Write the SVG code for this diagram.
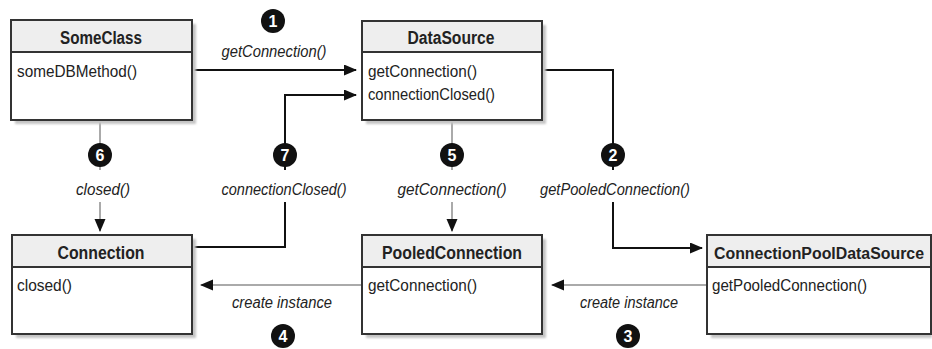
<svg xmlns="http://www.w3.org/2000/svg" width="932" height="349" viewBox="0 0 932 349">
<style>
.shadow{fill:#c4c4c4;filter:url(#blur)}
.box{fill:#ffffff;stroke:#333333;stroke-width:2}
.head{fill:#eeeeee;stroke:#333333;stroke-width:2}
.title{font-family:"Liberation Sans Narrow","Liberation Sans",Arial,sans-serif;font-size:18px;font-weight:bold;fill:#222222;text-anchor:middle}
.meth{font-family:"Liberation Sans Narrow","Liberation Sans",Arial,sans-serif;font-size:16px;fill:#222222}
.lbl{font-family:"Liberation Sans Narrow","Liberation Sans",Arial,sans-serif;font-size:16px;font-style:italic;fill:#222222;text-anchor:middle}
.blk{fill:none;stroke:#111111;stroke-width:2}
.gry{fill:none;stroke:#aaaaaa;stroke-width:2}
.num circle{fill:#111111}
.num text{font-family:"Liberation Sans",Arial,sans-serif;font-size:16px;font-weight:bold;fill:#ffffff;text-anchor:middle}
</style>
<defs>
<filter id="blur" x="-10%" y="-10%" width="120%" height="120%"><feGaussianBlur stdDeviation="1.2"/></filter>
<marker id="arr" markerUnits="userSpaceOnUse" markerWidth="14" markerHeight="12" refX="12" refY="5.5" orient="auto">
<path d="M0,0 L13,5.5 L0,11 z" fill="#111111"/>
</marker>
</defs>
<rect width="932" height="349" fill="#ffffff"/>

<g id="connectors">
<path class="blk" d="M192,70 H356" marker-end="url(#arr)"/>
<path class="blk" d="M192,247 H285 V202"/>
<path class="blk" d="M285,170 V95 H356" marker-end="url(#arr)"/>
<path class="gry" d="M100,121 V170"/>
<path class="gry" d="M100,202 V231" marker-end="url(#arr)"/>
<path class="gry" d="M452,121 V170"/>
<path class="gry" d="M452,202 V231" marker-end="url(#arr)"/>
<path class="blk" d="M542,70 H613 V170"/>
<path class="blk" d="M613,202 V248 H702" marker-end="url(#arr)"/>
<path class="gry" d="M362,285 H201" marker-end="url(#arr)"/>
<path class="gry" d="M707,285 H552" marker-end="url(#arr)"/>

<text class="lbl" x="274" y="57" textLength="105" lengthAdjust="spacingAndGlyphs">getConnection()</text>
<text class="lbl" x="103" y="195" textLength="54" lengthAdjust="spacingAndGlyphs">closed()</text>
<text class="lbl" x="284" y="195" textLength="125" lengthAdjust="spacingAndGlyphs">connectionClosed()</text>
<text class="lbl" x="452" y="195" textLength="109" lengthAdjust="spacingAndGlyphs">getConnection()</text>
<text class="lbl" x="615" y="195" textLength="150" lengthAdjust="spacingAndGlyphs">getPooledConnection()</text>
<text class="lbl" x="282" y="308" textLength="100" lengthAdjust="spacingAndGlyphs">create instance</text>
<text class="lbl" x="629" y="308" textLength="98" lengthAdjust="spacingAndGlyphs">create instance</text>

<g class="num"><circle cx="273" cy="21" r="12"/><text x="273" y="26.5">1</text></g>
<g class="num"><circle cx="613" cy="155" r="12"/><text x="613" y="160.5">2</text></g>
<g class="num"><circle cx="628" cy="336" r="12"/><text x="628" y="341.5">3</text></g>
<g class="num"><circle cx="283" cy="336" r="12"/><text x="283" y="341.5">4</text></g>
<g class="num"><circle cx="452" cy="155" r="12"/><text x="452" y="160.5">5</text></g>
<g class="num"><circle cx="100" cy="155" r="12"/><text x="100" y="160.5">6</text></g>
<g class="num"><circle cx="285" cy="155" r="12"/><text x="285" y="160.5">7</text></g>
</g>

<g id="SomeClass">
<rect class="shadow" x="15" y="24" width="181" height="100"/>
<rect class="box" x="11" y="20" width="181" height="100"/>
<rect class="head" x="11" y="20" width="181" height="32"/>
<text class="title" x="101" y="44" textLength="82" lengthAdjust="spacingAndGlyphs">SomeClass</text>
<text class="meth" x="17" y="77" textLength="120" lengthAdjust="spacingAndGlyphs">someDBMethod()</text>
</g>

<g id="DataSource">
<rect class="shadow" x="366" y="25" width="180" height="99"/>
<rect class="box" x="362" y="21" width="180" height="99"/>
<rect class="head" x="362" y="21" width="180" height="31"/>
<text class="title" x="451" y="44" textLength="87" lengthAdjust="spacingAndGlyphs">DataSource</text>
<text class="meth" x="368" y="77" textLength="109" lengthAdjust="spacingAndGlyphs">getConnection()</text>
<text class="meth" x="368" y="100" textLength="127" lengthAdjust="spacingAndGlyphs">connectionClosed()</text>
</g>

<g id="Connection">
<rect class="shadow" x="16" y="239" width="180" height="99"/>
<rect class="box" x="12" y="235" width="180" height="99"/>
<rect class="head" x="12" y="235" width="180" height="32"/>
<text class="title" x="101" y="259" textLength="87" lengthAdjust="spacingAndGlyphs">Connection</text>
<text class="meth" x="17" y="291" textLength="55" lengthAdjust="spacingAndGlyphs">closed()</text>
</g>

<g id="PooledConnection">
<rect class="shadow" x="366" y="239" width="180" height="99"/>
<rect class="box" x="362" y="235" width="180" height="99"/>
<rect class="head" x="362" y="235" width="180" height="32"/>
<text class="title" x="452" y="259" textLength="140" lengthAdjust="spacingAndGlyphs">PooledConnection</text>
<text class="meth" x="368" y="291" textLength="109" lengthAdjust="spacingAndGlyphs">getConnection()</text>
</g>

<g id="ConnectionPoolDataSource">
<rect class="shadow" x="711" y="239" width="221" height="99"/>
<rect class="box" x="707" y="235" width="224" height="99"/>
<rect class="head" x="707" y="235" width="224" height="32"/>
<text class="title" x="819" y="259" style="font-size:16px" textLength="210" lengthAdjust="spacingAndGlyphs">ConnectionPoolDataSource</text>
<text class="meth" x="712" y="291" textLength="155" lengthAdjust="spacingAndGlyphs">getPooledConnection()</text>
</g>
</svg>
